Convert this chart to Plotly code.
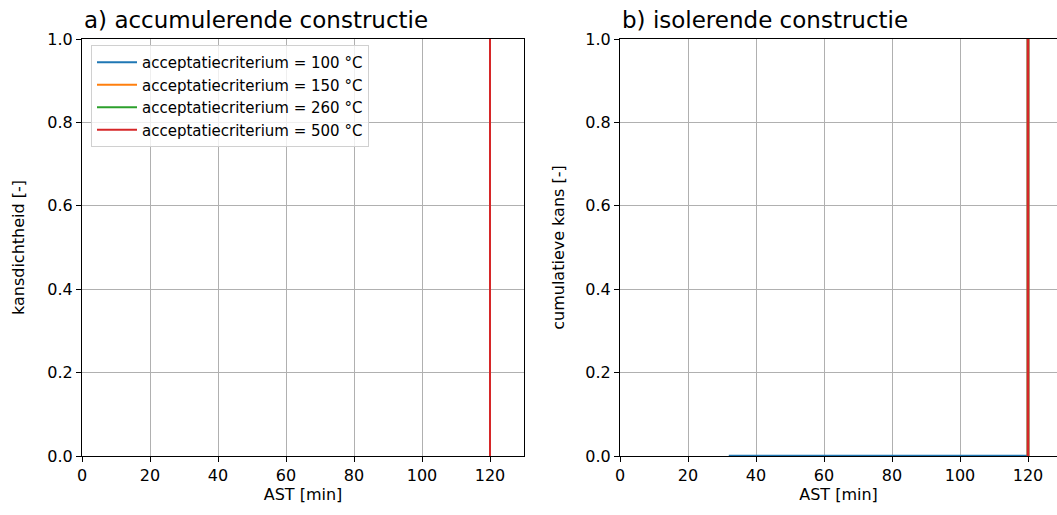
import plotly.graph_objects as go

criteria = ["acceptatiecriterium = 100 °C", "acceptatiecriterium = 150 °C",
            "acceptatiecriterium = 260 °C", "acceptatiecriterium = 500 °C"]
colors = ["#1f77b4", "#ff7f0e", "#2ca02c", "#d62728"]

# a) density (all mass at AST = 120 min)
pdf_x = [[120, 120], [120, 120], [120, 120], [120, 120]]
pdf_y = [[0, 1], [0, 1], [0, 1], [0, 1]]

# b) cumulative
cdf_x = [[32, 120, 120], [120, 120], [120, 120], [120, 120]]
cdf_y = [[0, 0, 1], [0, 1], [0, 1], [0, 1]]

xticks = [0, 20, 40, 60, 80, 100, 120]
yticks = [0.0, 0.2, 0.4, 0.6, 0.8, 1.0]

W, H = 1057, 515
FONT = "DejaVu Sans"

fig = go.Figure()
for i in range(4):
    fig.add_trace(go.Scatter(x=pdf_x[i], y=pdf_y[i], mode="lines", name=criteria[i],
                             line=dict(color=colors[i], width=2), xaxis="x", yaxis="y"))
for i in range(4):
    fig.add_trace(go.Scatter(x=cdf_x[i], y=cdf_y[i], mode="lines", name=criteria[i],
                             line=dict(color=colors[i], width=2.5), xaxis="x2", yaxis="y2",
                             showlegend=False))

ydom = [1 - 456 / H, 1 - 39 / H]
left_dom = [82 / W, 524 / W]
right_dom = [620 / W, 1.0]
right_max = 130 * (W - 620) / (1062 - 620)

common_x = dict(tickvals=xticks, ticktext=[str(v) for v in xticks], ticks="outside", ticklen=5,
                tickcolor="black", showgrid=True, gridcolor="#b0b0b0", gridwidth=1,
                showline=True, linecolor="black", linewidth=1.2, zeroline=False, automargin=False,
                tickfont=dict(size=16, color="black", family=FONT))
common_y = dict(tickvals=yticks, ticktext=[f"{v:.1f}" for v in yticks], ticks="outside", ticklen=5,
                tickcolor="black", showgrid=True, gridcolor="#b0b0b0", gridwidth=1,
                showline=True, linecolor="black", linewidth=1.2, zeroline=False, automargin=False,
                tickfont=dict(size=16, color="black", family=FONT), range=[0, 1])

fig.update_layout(
    width=W, height=H, margin=dict(l=0, r=0, t=0, b=0),
    plot_bgcolor="white", paper_bgcolor="white",
    font=dict(family=FONT, color="black"),
    xaxis=dict(domain=left_dom, range=[0, 130], mirror=True, anchor="y",
               title=dict(text="AST [min]", font=dict(size=16), standoff=2), **common_x),
    yaxis=dict(domain=ydom, mirror=True, anchor="x",
               title=dict(text="kansdichtheid [-]", font=dict(size=16), standoff=18), **common_y),
    xaxis2=dict(domain=right_dom, range=[0, right_max], mirror=True, anchor="y2",
                title=dict(text="AST [min]", font=dict(size=16), standoff=2), **common_x),
    yaxis2=dict(domain=ydom, mirror=False, anchor="x2",
                title=dict(text="cumulatieve kans [-]", font=dict(size=16), standoff=16), **common_y),
    legend=dict(x=91 / W, y=1 - 45 / H, xanchor="left", yanchor="top",
                bgcolor="rgba(255,255,255,0.8)", bordercolor="#d0d0d0", borderwidth=1,
                font=dict(size=15, family=FONT, color="black"), tracegroupgap=0,
                itemwidth=40),
    annotations=[
        dict(text="a) accumulerende constructie", x=82 / W, y=1 - 20 / H, xref="paper", yref="paper",
             xanchor="left", yanchor="middle", showarrow=False, font=dict(size=23, family=FONT)),
        dict(text="b) isolerende constructie", x=620 / W, y=1 - 20 / H, xref="paper", yref="paper",
             xanchor="left", yanchor="middle", showarrow=False, font=dict(size=23, family=FONT)),
    ],
)

fig.write_html("out.html", config={"displayModeBar": False},
               post_script="document.body.style.margin='0px';document.body.style.overflow='hidden';")
